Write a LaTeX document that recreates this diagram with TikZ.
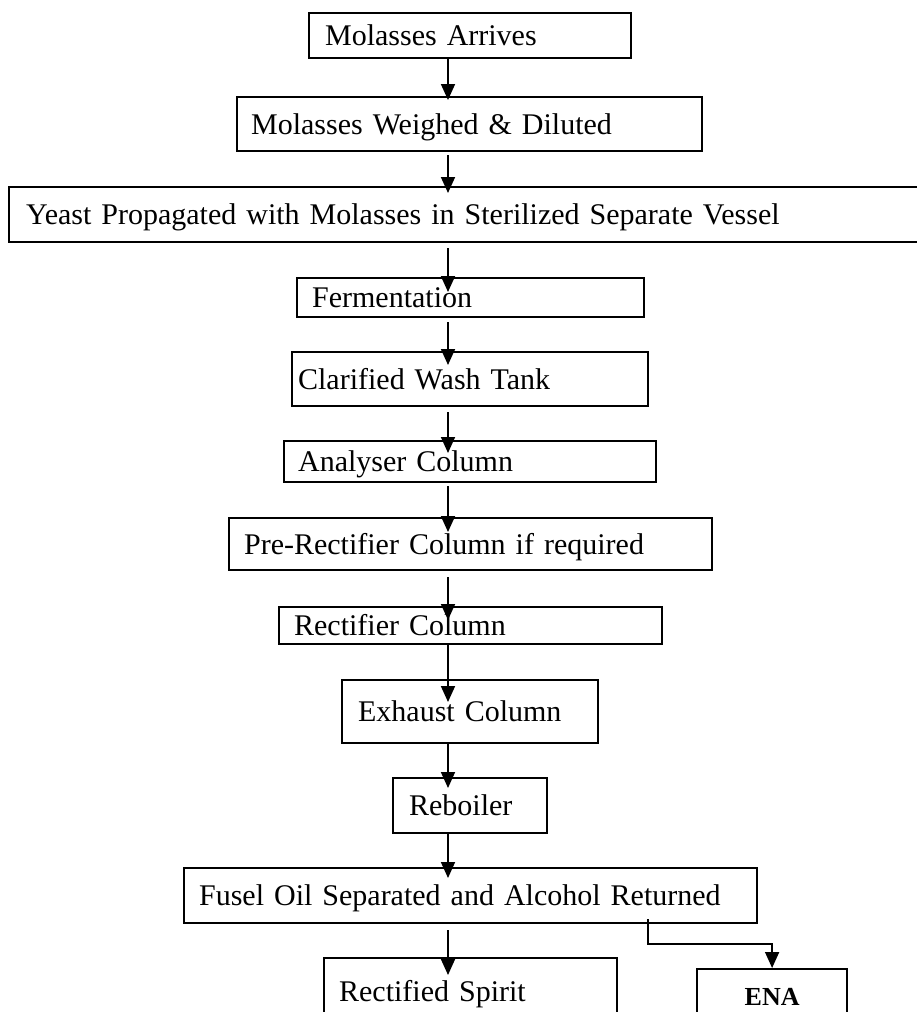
\documentclass[tikz,border=0pt]{standalone}
\usepackage{fontspec}
\setmainfont{Liberation Serif}
\usepackage{tikz}
\usetikzlibrary{calc,positioning,arrows.meta}
\tikzset{
	box/.style={draw,line width=2.2pt,anchor=north west,inner xsep=15pt,
		inner ysep=0pt,align=left,text height=20pt,text depth=0pt,
		font=\fontsize{30}{36}\selectfont},
	endbox/.style={box,align=center,inner xsep=0pt,text height=18pt,
		font=\fontsize{26}{30}\selectfont\bfseries},
	flow/.style={line width=1.7pt,-{Triangle[length=16pt,width=14pt]}}
}
\begin{document}
\begin{tikzpicture}[x=1pt,y=-1pt]
\useasboundingbox (0,0) rectangle (917,1012);

\coordinate (spine) at (448,0);

\node[box,inner xsep=16pt,text width=290pt,minimum height=45pt] (arrives) at (308,12) {Molasses Arrives};
\node[box,inner xsep=14pt,text width=437pt,minimum height=54pt] (weighed) at (236,96) {Molasses Weighed \& Diluted};
\node[box,inner xsep=17pt,text width=883pt,minimum height=55pt] (yeast) at (8,186) {Yeast Propagated with Molasses in Sterilized Separate Vessel};
\node[box,text width=317pt,minimum height=39pt] (ferment) at (296,277) {Fermentation};
\node[box,inner xsep=6pt,text width=344pt,minimum height=54pt] (wash) at (291,351) {Clarified Wash Tank};
\node[box,inner xsep=14pt,text width=344pt,minimum height=41pt] (analyser) at (283,440) {Analyser Column};
\node[box,text width=453pt,minimum height=52pt] (prerect) at (228,517) {Pre-Rectifier Column if required};
\node[box,text width=353pt,minimum height=37pt] (rectifier) at (278,606) {Rectifier Column};
\node[box,inner xsep=16pt,text width=224pt,minimum height=63pt] (exhaust) at (341,679) {Exhaust Column};
\node[box,inner xsep=16pt,text width=122pt,minimum height=55pt] (reboiler) at (392,777) {Reboiler};
\node[box,text width=543pt,minimum height=55pt] (fusel) at (183,867) {Fusel Oil Separated and Alcohol Returned};
\node[box,text width=263pt,minimum height=66pt] (spirit) at (323,957) {Rectified Spirit};
\node[endbox,text width=150pt,minimum height=54pt] (ena) at (696,968) {ENA};

\draw[flow,shorten >=-4pt] (arrives.south -| spine) -- (weighed.north -| spine);
\draw[flow,shorten <=3pt,shorten >=-7pt] (weighed.south -| spine) -- (yeast.north -| spine);
\draw[flow,shorten <=5pt,shorten >=-15pt] (yeast.south -| spine) -- (ferment.north -| spine);
\draw[flow,shorten <=4pt,shorten >=-14pt] (ferment.south -| spine) -- (wash.north -| spine);
\draw[flow,shorten <=5pt,shorten >=-13pt] (wash.south -| spine) -- (analyser.north -| spine);
\draw[flow,shorten <=3pt,shorten >=-15pt] (analyser.south -| spine) -- (prerect.north -| spine);
\draw[flow,shorten <=6pt,shorten >=-14pt] (prerect.south -| spine) -- (rectifier.north -| spine);
\draw[flow,shorten >=-23pt] (rectifier.south -| spine) -- (exhaust.north -| spine);
\draw[flow,shorten >=-11pt] (exhaust.south -| spine) -- (reboiler.north -| spine);
\draw[flow,shorten >=-11pt] (reboiler.south -| spine) -- (fusel.north -| spine);
\draw[flow,shorten <=6pt,shorten >=-18pt] (fusel.south -| spine) -- (spirit.north -| spine);
\draw[flow] ($(fusel.south east)+(-110,-5)$) -- ++(0,25) -| (ena.north);

\end{tikzpicture}
\end{document}
